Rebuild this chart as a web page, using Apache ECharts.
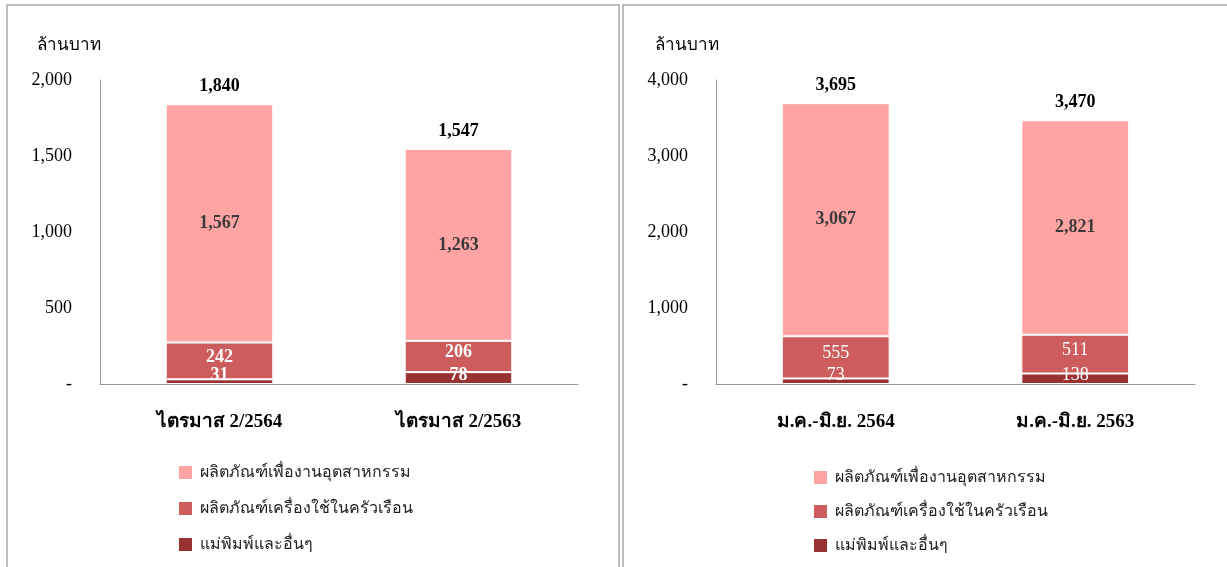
<!DOCTYPE html>
<html><head><meta charset="utf-8">
<script src="https://cdn.jsdelivr.net/npm/echarts@6/dist/echarts.min.js"></script>
<style>html,body{margin:0;padding:0;background:#fff}#c{width:1227px;height:567px}</style>
</head><body><div id="c"></div>
<script>
const seriesNames = ['ผลิตภัณฑ์เพื่องานอุตสาหกรรม','ผลิตภัณฑ์เครื่องใช้ในครัวเรือน','แม่พิมพ์และอื่นๆ'];
const catsQ = ['ไตรมาส 2/2564','ไตรมาส 2/2563'];
const catsH = ['ม.ค.-มิ.ย. 2564','ม.ค.-มิ.ย. 2563'];
const industrialQ = [1567,1263];
const householdQ = [242,206];
const moldQ = [31,78];
const totalQ = [1840,1547];
const industrialH = [3067,2821];
const householdH = [555,511];
const moldH = [73,138];
const totalH = [3695,3470];
const yTitle = 'ล้านบาท';

const colors = ['#FFA3A3','#CD5C5C','#993333'];
const serif = '"Liberation Serif","Times New Roman",serif';
const thai = 'Tahoma,"Noto Sans","DejaVu Sans",sans-serif';
const fmt = v => v === 0 ? '-' : v.toLocaleString('en-US');

function yAxis(gi, max, interval){
  return {gridIndex:gi, type:'value', min:0, max:max, interval:interval,
    axisLine:{show:true,lineStyle:{color:'#9a9a9a'}}, axisTick:{show:false}, splitLine:{show:false},
    axisLabel:{formatter:fmt, fontFamily:serif, fontSize:18, color:'#000', margin:28}};
}
function xAxis(gi, cats){
  return {gridIndex:gi, type:'category', data:cats,
    axisLine:{lineStyle:{color:'#9a9a9a'}}, axisTick:{show:false},
    axisLabel:{fontFamily:serif, fontSize:19, fontWeight:'bold', color:'#000', margin:29}};
}
function bars(gi, mold, household, industrial, total, whiteWeight){
  const stack = 's'+gi;
  const base = {type:'bar', stack:stack, xAxisIndex:gi, yAxisIndex:gi, barWidth:'45%'};
  const lab = {fontFamily:serif, fontSize:18, fontWeight:'bold'};
  const wlab = {fontFamily:serif, fontSize:18, fontWeight:whiteWeight};
  return [
    Object.assign({}, base, {name:seriesNames[2], data:mold, itemStyle:{color:colors[2],borderColor:'#fff',borderWidth:1},
      label:Object.assign({show:true, position:'insideBottom', distance:0, formatter:p=>fmt(p.value), color:'#fff'}, wlab)}),
    Object.assign({}, base, {name:seriesNames[1], data:household, itemStyle:{color:colors[1],borderColor:'#fff',borderWidth:1},
      label:Object.assign({show:true, position:'inside', offset:[0,-4], formatter:p=>fmt(p.value), color:'#fff'}, wlab)}),
    Object.assign({}, base, {name:seriesNames[0], data:industrial, itemStyle:{color:colors[0],borderColor:'#fff',borderWidth:1},
      label:Object.assign({show:true, position:'inside', formatter:p=>fmt(p.value), color:'#3a3a3a'}, lab)}),
    Object.assign({}, base, {data:total.map(()=>0), silent:true, itemStyle:{color:'transparent'},
      label:Object.assign({show:true, position:'top', distance:9, formatter:p=>fmt(total[p.dataIndex]), color:'#000'}, lab)})
  ];
}
function legend(left, top, gap){
  return {orient:'vertical', left:left, top:top, itemGap:gap, itemWidth:15, itemHeight:15, icon:'rect',
    data:seriesNames.map(n=>({name:n})),
    textStyle:{fontFamily:thai, fontSize:16, color:'#222', padding:[0,0,0,2]}};
}

const chart = echarts.init(document.getElementById('c'));
chart.setOption({
  animation:false,
  color:colors,
  grid:[{left:100, top:80, width:478, height:304},{left:716, top:80, width:479, height:304}],
  xAxis:[xAxis(0,catsQ), xAxis(1,catsH)],
  yAxis:[yAxis(0,2000,500), yAxis(1,4000,1000)],
  legend:[legend(172,459,19), legend(807,464,17)],
  series:[...bars(0,moldQ,householdQ,industrialQ,totalQ,'bold'), ...bars(1,moldH,householdH,industrialH,totalH,'normal')],
  graphic:[
    {type:'rect', shape:{x:7,y:5,width:612,height:600}, style:{fill:'none',stroke:'#a8a8a8',lineWidth:1.5}, silent:true},
    {type:'rect', shape:{x:623,y:5,width:610,height:600}, style:{fill:'none',stroke:'#a8a8a8',lineWidth:1.5}, silent:true},
    {type:'text', left:37, top:37, style:{text:yTitle, font:'17px '+thai, fill:'#000'}},
    {type:'text', left:655, top:37, style:{text:yTitle, font:'17px '+thai, fill:'#000'}}
  ]
});
</script></body></html>
